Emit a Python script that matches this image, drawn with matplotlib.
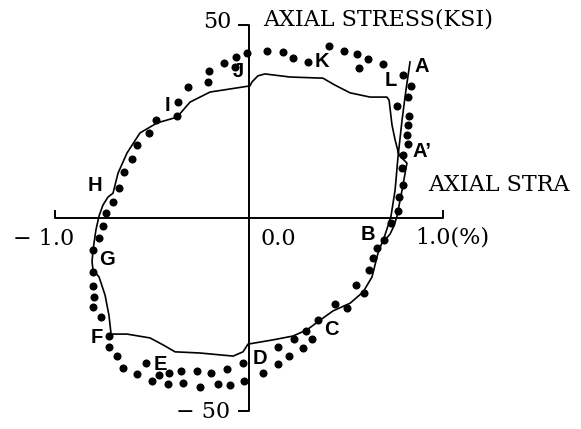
import matplotlib
matplotlib.use("Agg")
import matplotlib.pyplot as plt

# analytical hysteresis loop (strain %, stress ksi), traced from A around to B
curve_strain = [0.830, 0.809, 0.789, 0.768, 0.753, 0.732, 0.716, 0.696, 0.701,
                0.727, 0.747, 0.763, 0.789, 0.814, 0.773,
                0.753, 0.737, 0.722, 0.711, 0.624, 0.521, 0.443, 0.381, 0.211,
                0.082, 0.046, 0.015, 0.005,
                -0.098, -0.201, -0.304, -0.371, -0.474, -0.562, -0.629, -0.675,
                -0.701, -0.727, -0.753, -0.773, -0.789, -0.804, -0.809, -0.804,
                -0.773, -0.742, -0.722, -0.711,
                -0.629, -0.510, -0.443, -0.381, -0.253, -0.082, -0.031, -0.005,
                0.124, 0.227, 0.299, 0.366, 0.433, 0.521, 0.588, 0.634, 0.665, 0.691]
curve_stress = [40.3, 33.0, 25.3, 15.7, 7.1, 0.4, -2.2, -5.3, -5.8,
                -4.3, -2.2, 0.4, 7.1, 14.1, 16.2,
                20.1, 24.0, 30.4, 31.2, 31.2, 32.3, 34.3, 36.1, 36.4,
                37.2, 36.7, 35.1, 34.1,
                33.3, 32.5, 29.9, 26.0, 24.5, 21.9, 16.7, 11.5,
                6.3, 5.3, 3.2, 0.4, -3.2, -8.4, -11.5, -13.6,
                -15.4, -20.1, -25.3, -30.2,
                -30.2, -31.2, -33.0, -34.8, -35.1, -35.9, -34.8, -32.8,
                -31.7, -30.7, -29.1, -26.6, -24.2, -22.2, -19.3, -15.4, -9.2, -5.8]

# measured points
test_strain = [-0.737, -0.701, -0.670, -0.644, -0.603, -0.577, -0.515, -0.479,
               -0.371, -0.366, -0.314, -0.211, -0.206, -0.129, -0.072, -0.067, -0.010,
               0.093, 0.175, 0.227, 0.304, 0.412, 0.490, 0.557, 0.567, 0.613, 0.691,
               0.794, 0.835, 0.820, 0.763, 0.825, 0.820, 0.814, 0.820, 0.794,
               0.789, 0.794, 0.773, 0.768,
               0.732, 0.696, 0.660, 0.639, 0.619, 0.552, 0.593, 0.443, 0.505,
               0.356, 0.294, 0.232, 0.325, 0.278, 0.149, 0.206, 0.149, 0.072,
               -0.031, -0.026,
               -0.113, -0.098, -0.196, -0.160, -0.268, -0.253, -0.351, -0.340,
               -0.412, -0.418, -0.464, -0.500, -0.531, -0.577, -0.649, -0.680,
               -0.722, -0.722,
               -0.763, -0.804, -0.799, -0.804, -0.804, -0.804, -0.773, -0.753]
test_stress = [1.2, 4.0, 7.6, 11.8, 15.2, 18.8, 21.9, 25.3,
               26.3, 29.9, 33.8, 35.1, 38.0, 40.0, 39.0, 41.6, 42.6,
               43.1, 42.9, 41.3, 40.3, 44.4, 43.1, 42.4, 38.7, 41.1, 39.8,
               36.9, 34.1, 31.2, 28.9, 26.3, 24.0, 21.4, 19.0, 16.2,
               12.8, 8.4, 5.3, 1.7,
               -1.4, -5.8, -7.9, -10.5, -13.6, -17.5, -19.6, -22.4, -23.4,
               -26.6, -29.4, -31.5, -31.5, -33.8, -33.5, -35.9, -38.0, -40.3,
               -37.7, -42.4,
               -39.2, -43.4, -40.3, -43.1, -39.8, -43.9, -39.8, -42.9,
               -40.3, -43.1, -40.8, -42.4, -37.7, -40.5, -39.0, -35.9,
               -33.5, -30.7,
               -25.8, -23.2, -20.6, -17.7, -14.1, -8.4, -5.3, -2.2]

point_names = ["A", "L", "A\u2019", "K", "J", "I", "H", "G", "F", "E", "D", "C", "B"]
point_xy = [(0.892, 39.0), (0.732, 35.6), (0.845, 17.0), (0.376, 40.3), (-0.057, 37.7),
            (-0.423, 29.1), (-0.794, 8.4), (-0.732, -10.8), (-0.784, -31.2),
            (-0.459, -38.0), (0.057, -36.4), (0.423, -28.9), (0.613, -4.3)]

fig = plt.figure(figsize=(5.81, 4.29), dpi=100)
ax = fig.add_axes([0, 0, 1, 1])
ax.set_xlim(-1.2835, 1.7113)
ax.set_ylim(-54.79, 56.35)
ax.axis("off")

k = "black"
serif = "DejaVu Serif"
sans = "Liberation Sans"

# axes drawn by hand: strain axis from -1 to 1, stress axis from -50 to 50
ax.plot([-1.0, -1.0, 1.0, 1.0], [1.8, 0, 0, 1.8], color=k, lw=1.4)
ax.plot([-0.05, 0, 0, -0.05], [50, 50, -50, -50], color=k, lw=1.4)

ax.plot(curve_strain, curve_stress, color=k, lw=1.2)
ax.plot(test_strain, test_stress, "o", color=k, ms=5.8, mew=0)

ax.text(-0.088, 50.6, "50", ha="right", va="center", fontsize=16, family=serif)
ax.text(0.072, 51.2, "AXIAL STRESS(KSI)", ha="left", va="center", fontsize=16, family=serif)
ax.text(0.923, 8.4, "AXIAL STRA", ha="left", va="center", fontsize=16, family=serif)
ax.text(-1.216, -5.6, "\u2212 1.0", ha="left", va="center", fontsize=16, family=serif)
ax.text(0.057, -5.6, "0.0", ha="left", va="center", fontsize=16, family=serif)
ax.text(0.856, -5.3, "1.0(%)", ha="left", va="center", fontsize=16, family=serif)
ax.text(-0.098, -50.4, "\u2212 50", ha="right", va="center", fontsize=16, family=serif)

for name, (x, y) in zip(point_names, point_xy):
    ha = "left" if name.startswith("A\u2019") else "center"
    ax.text(x, y, name, ha=ha, va="center", fontsize=14.5, family=sans, fontweight="bold")

fig.savefig("out.png", dpi=100, facecolor="white")
